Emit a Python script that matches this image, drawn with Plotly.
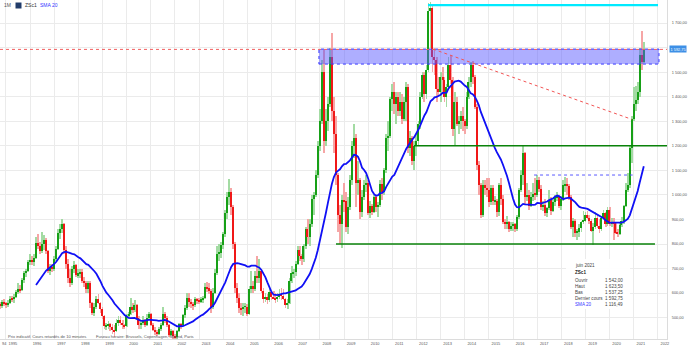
import plotly.graph_objects as go
import pandas as pd

# ---------------- data (monthly, Sep 1994 .. Jun 2021) ----------------
months = pd.date_range("1994-09-01", "2021-06-01", freq="MS")

open_ = [
    560, 552, 548, 562,                                              # 1994 Sep-Dec
    556, 552, 560, 578, 575, 585, 605, 618, 612, 652, 680, 690,      # 1995
    728, 735, 725, 745, 805, 790, 770, 800, 815, 770, 690, 705,      # 1996
    700, 740, 780, 845, 860, 880, 775, 720, 660, 640, 700, 715,      # 1997
    672, 680, 685, 650, 640, 615, 640, 560, 520, 545, 575, 560,      # 1998
    535, 505, 465, 470, 475, 460, 450, 445, 480, 490, 480, 470,      # 1999
    465, 510, 515, 545, 530, 550, 500, 470, 480, 490, 470, 500,      # 2000
    515, 470, 450, 440, 435, 455, 470, 515, 500, 470, 430, 445,      # 2001
    425, 420, 445, 475, 470, 510, 540, 580, 565, 555, 550, 575,      # 2002
    570, 565, 575, 580, 625, 620, 610, 545, 600, 680, 760, 765,      # 2003
    795, 840, 925, 990, 1010, 950, 800, 620, 580, 540, 535, 545,     # 2004
    545, 515, 615, 630, 615, 670, 660, 690, 610, 575, 585, 570,      # 2005
    605, 585, 580, 575, 585, 595, 590, 575, 550, 560, 650, 680,      # 2006
    685, 720, 775, 750, 740, 790, 860, 830, 880, 985, 1000, 1080,    # 2007
    1200, 1300, 1500, 1220, 1300, 1370, 1560, 1340, 1250, 1080, 920, 880,   # 2008
    980, 975, 870, 950, 1060, 1200, 1230, 1050, 1060, 930, 990, 1040,       # 2009
    1050, 925, 955, 930, 990, 950, 960, 1045, 1010, 1100, 1230, 1240,       # 2010
    1390, 1420, 1370, 1400, 1340, 1380, 1310, 1380, 1440, 1190, 1230, 1140, # 2011
    1200, 1220, 1290, 1400, 1490, 1410, 1510, 1750, 1760, 1560, 1550, 1430, # 2012
    1420, 1480, 1470, 1400, 1440, 1530, 1470, 1270, 1380, 1290, 1300, 1320, # 2013
    1300, 1280, 1400, 1460, 1530, 1480, 1360, 1120, 1040, 920, 1040, 1030,  # 2014
    1020, 970, 1030, 975, 975, 930, 1040, 985, 890, 880, 890, 860,          # 2015
    875, 880, 860, 910, 1020, 1080, 1170, 990, 1000, 955, 990, 1005,        # 2016
    1000, 1060, 1025, 950, 960, 925, 945, 980, 935, 970, 990, 995,          # 2017
    955, 985, 1040, 1045, 1035, 990, 870, 895, 845, 850, 865, 890,          # 2018
    895, 920, 905, 895, 855, 870, 905, 875, 860, 905, 925, 880,             # 2019
    940, 880, 890, 885, 845, 842, 878, 895, 955, 1020, 1040, 1190,          # 2020
    1310, 1370, 1385, 1420, 1570, 1542.00,                                  # 2021
]
high = [
    575, 565, 572, 575,
    565, 570, 590, 590, 595, 612, 640, 635, 660, 690, 700, 735,
    760, 750, 760, 830, 840, 810, 850, 835, 825, 775, 720, 720,
    750, 790, 860, 880, 900, 885, 790, 740, 700, 710, 730, 720,
    700, 700, 700, 665, 650, 650, 650, 565, 560, 590, 595, 565,
    545, 510, 480, 485, 480, 475, 470, 495, 505, 505, 490, 475,
    515, 525, 580, 560, 570, 555, 505, 490, 505, 495, 515, 525,
    520, 480, 460, 450, 460, 480, 545, 525, 505, 475, 455, 450,
    435, 450, 480, 480, 515, 550, 600, 600, 575, 565, 585, 580,
    580, 585, 590, 640, 645, 640, 615, 620, 700, 790, 800, 810,
    850, 940, 1010, 1064, 1030, 960, 810, 640, 600, 560, 560, 560,
    555, 630, 690, 650, 690, 750, 740, 700, 620, 600, 595, 615,
    610, 610, 600, 600, 615, 620, 615, 580, 575, 660, 710, 700,
    730, 790, 790, 760, 800, 870, 900, 900, 1000, 1010, 1100, 1220,
    1350, 1550, 1590, 1350, 1400, 1600, 1660, 1400, 1320, 1090, 960, 1000,
    1050, 1010, 990, 1080, 1220, 1290, 1250, 1140, 1070, 1020, 1060, 1080,
    1060, 975, 965, 1000, 1000, 970, 1060, 1070, 1110, 1250, 1300, 1400,
    1450, 1460, 1420, 1420, 1420, 1410, 1400, 1460, 1450, 1260, 1240, 1220,
    1250, 1300, 1420, 1500, 1500, 1530, 1780, 1785, 1775, 1600, 1560, 1480,
    1500, 1520, 1480, 1450, 1560, 1570, 1480, 1420, 1400, 1320, 1340, 1360,
    1310, 1420, 1480, 1540, 1545, 1490, 1370, 1140, 1050, 1060, 1060, 1070,
    1070, 1040, 1040, 995, 985, 1050, 1070, 1000, 900, 915, 895, 890,
    890, 885, 920, 1030, 1100, 1200, 1175, 1050, 1020, 1010, 1050, 1070,
    1080, 1075, 1040, 975, 985, 950, 1020, 990, 985, 1000, 1010, 1000,
    995, 1060, 1075, 1070, 1045, 1000, 905, 900, 860, 880, 895, 935,
    930, 935, 920, 900, 885, 930, 920, 900, 915, 940, 930, 950,
    950, 905, 905, 890, 860, 885, 910, 960, 1050, 1090, 1200, 1320,
    1440, 1445, 1460, 1600, 1668, 1623.50,
]
low = [
    540, 535, 540, 548,
    540, 545, 555, 565, 560, 580, 595, 600, 608, 640, 665, 685,
    715, 715, 710, 740, 780, 760, 765, 775, 760, 680, 675, 685,
    690, 730, 775, 820, 845, 760, 700, 640, 625, 635, 680, 665,
    660, 660, 640, 625, 600, 600, 540, 510, 505, 535, 555, 520,
    495, 455, 450, 455, 445, 435, 420, 440, 465, 470, 455, 455,
    460, 500, 510, 520, 525, 495, 455, 455, 470, 460, 465, 490,
    465, 445, 430, 425, 430, 445, 465, 480, 460, 420, 425, 415,
    415, 415, 440, 455, 465, 500, 530, 545, 540, 530, 545, 555,
    555, 560, 560, 575, 605, 595, 520, 535, 595, 675, 730, 745,
    780, 830, 900, 960, 920, 780, 600, 560, 520, 510, 505, 520,
    505, 510, 600, 600, 610, 640, 640, 600, 560, 565, 555, 565,
    570, 575, 560, 565, 575, 570, 570, 540, 535, 555, 640, 660,
    670, 715, 730, 715, 725, 780, 800, 790, 870, 920, 990, 1070,
    1180, 1290, 1170, 1200, 1260, 1360, 1300, 1170, 1040, 850, 800, 785,
    930, 850, 840, 940, 1040, 1150, 950, 1000, 900, 910, 980, 1010,
    920, 905, 920, 925, 930, 910, 950, 980, 1000, 1090, 1180, 1230,
    1340, 1330, 1290, 1320, 1320, 1290, 1300, 1300, 1170, 1160, 1120, 1100,
    1160, 1200, 1270, 1390, 1380, 1390, 1500, 1600, 1500, 1490, 1380, 1400,
    1380, 1410, 1380, 1360, 1430, 1450, 1240, 1200, 1280, 1250, 1270, 1260,
    1250, 1270, 1390, 1440, 1450, 1350, 1100, 1000, 905, 910, 1000, 990,
    950, 960, 960, 960, 910, 915, 960, 880, 860, 860, 850, 855,
    855, 850, 855, 900, 1010, 1040, 960, 975, 940, 950, 975, 980,
    990, 1010, 940, 935, 915, 910, 940, 920, 930, 955, 975, 945,
    940, 975, 1010, 1000, 980, 860, 830, 830, 815, 830, 850, 880,
    890, 900, 880, 850, 795, 860, 865, 845, 855, 900, 870, 875,
    875, 870, 815, 840, 830, 835, 870, 880, 950, 1010, 1030, 1130,
    1300, 1340, 1370, 1400, 1510, 1537.25,
]
close = [
    552, 548, 562, 556,
    552, 560, 578, 575, 585, 605, 618, 612, 652, 680, 690, 728,
    735, 725, 745, 805, 790, 770, 800, 815, 770, 690, 705, 700,
    740, 780, 845, 860, 880, 775, 720, 660, 640, 700, 715, 672,
    680, 685, 650, 640, 615, 640, 560, 520, 545, 575, 560, 535,
    505, 465, 470, 475, 460, 450, 445, 480, 490, 480, 470, 465,
    510, 515, 545, 530, 550, 500, 470, 480, 490, 470, 500, 515,
    470, 450, 440, 435, 455, 470, 515, 500, 470, 430, 445, 425,
    420, 445, 475, 470, 510, 540, 580, 565, 555, 550, 575, 570,
    565, 575, 580, 625, 620, 610, 545, 600, 680, 760, 765, 795,
    840, 925, 990, 1010, 950, 800, 620, 580, 540, 535, 545, 545,
    515, 615, 630, 615, 670, 660, 690, 610, 575, 585, 570, 605,
    585, 580, 575, 585, 595, 590, 575, 550, 560, 650, 680, 685,
    720, 775, 750, 740, 790, 860, 830, 880, 985, 1000, 1080, 1200,
    1300, 1500, 1220, 1300, 1370, 1560, 1340, 1250, 1080, 920, 880, 980,
    975, 870, 950, 1060, 1200, 1230, 1050, 1060, 930, 990, 1040, 1050,
    925, 955, 930, 990, 950, 960, 1045, 1010, 1100, 1230, 1240, 1390,
    1420, 1370, 1400, 1340, 1380, 1310, 1380, 1440, 1190, 1230, 1140, 1200,
    1220, 1290, 1400, 1490, 1410, 1510, 1750, 1760, 1560, 1550, 1430, 1420,
    1480, 1470, 1400, 1440, 1530, 1470, 1270, 1380, 1290, 1300, 1320, 1300,
    1280, 1400, 1460, 1530, 1480, 1360, 1120, 1040, 920, 1040, 1030, 1020,
    970, 1030, 975, 975, 930, 1040, 985, 890, 880, 890, 860, 875,
    880, 860, 910, 1020, 1080, 1170, 990, 1000, 955, 990, 1005, 1000,
    1060, 1025, 950, 960, 925, 945, 980, 935, 970, 990, 995, 955,
    985, 1040, 1045, 1035, 990, 870, 895, 845, 850, 865, 890, 895,
    920, 905, 895, 855, 870, 905, 875, 860, 905, 925, 880, 940,
    880, 890, 885, 845, 842, 878, 895, 955, 1020, 1040, 1190, 1310,
    1370, 1385, 1420, 1570, 1542, 1592.75,
]

y_tick_values = [500, 600, 700, 800, 900, 1000, 1100, 1200, 1300, 1400, 1500, 1600, 1700]
y_tick_labels = ["500,00", "600,00", "700,00", "800,00", "900,00", "1 000,00", "1 100,00",
                 "1 200,00", "1 300,00", "1 400,00", "1 500,00", "", "1 700,00"]
years = list(range(1995, 2023))

# drawn levels / zones
zone_low, zone_high = 1533, 1594
zone_start, zone_end = "2007-12-19", "2022-01-17"
peak_level, peak_start, peak_end = 1773, "2012-06-24", "2022-01-02"
support_1200, s1200_start = 1200, "2011-11-25"
support_800, s800_start, s800_end = 800, "2008-09-02", "2021-11-17"
mid_level, mid_start, mid_end = 1081, "2016-11-14", "2020-12-15"
trend_start, trend_end = ("2012-09-08", 1594), ("2020-11-30", 1308)
last_price = 1592.75

x_range = ["1994-10-04", "2022-05-18"]
y_range = [413, 1794]

# ---------------- figure ----------------
df = pd.DataFrame({"d": months, "o": open_, "h": high, "l": low, "c": close})
df["up"] = df["c"] >= df["o"]
df["sma"] = df["c"].rolling(20).mean()
df["body_base"] = df[["o", "c"]].min(axis=1)
df["body_h"] = (df["c"] - df["o"]).abs().clip(lower=2)

UP_BODY, UP_WICK = "#17a017", "#a3dba3"
DN_BODY, DN_WICK = "#f01818", "#f6a6a6"
DAY = 86400000

fig = go.Figure()
fig.add_trace(go.Bar(
    x=df["d"], y=df["h"] - df["l"], base=df["l"], width=13 * DAY,
    marker=dict(color=[UP_WICK if u else DN_WICK for u in df["up"]], line=dict(width=0)),
    hoverinfo="skip", showlegend=False))
fig.add_trace(go.Bar(
    x=df["d"], y=df["body_h"], base=df["body_base"], width=20 * DAY,
    marker=dict(color=[UP_BODY if u else DN_BODY for u in df["up"]], line=dict(width=0)),
    hoverinfo="skip", showlegend=False))
fig.add_trace(go.Scatter(
    x=df["d"], y=df["sma"], mode="lines",
    line=dict(color="#1010f5", width=1.8), showlegend=False))

shapes = [
    dict(type="rect", xref="x", yref="y", x0=zone_start, x1=zone_end, y0=zone_low, y1=zone_high,
         fillcolor="rgba(85,85,255,0.48)", line=dict(color="#3a3aff", width=1, dash="dot"), layer="above"),
    dict(type="line", xref="paper", yref="y", x0=0, x1=1, y0=last_price, y1=last_price,
         line=dict(color="#f26060", width=1, dash="dot"), layer="above"),
    dict(type="line", xref="x", yref="y", x0=peak_start, x1=peak_end, y0=peak_level, y1=peak_level,
         line=dict(color="#00eaff", width=2.2), layer="above"),
    dict(type="line", xref="x", yref="y", x0=s1200_start, x1=x_range[1], y0=support_1200, y1=support_1200,
         line=dict(color="#0a820a", width=1.6), layer="above"),
    dict(type="line", xref="x", yref="y", x0=s800_start, x1=s800_end, y0=support_800, y1=support_800,
         line=dict(color="#0a820a", width=1.6), layer="above"),
    dict(type="line", xref="x", yref="y", x0=mid_start, x1=mid_end, y0=mid_level, y1=mid_level,
         line=dict(color="#5a5aff", width=1, dash="dot"), layer="above"),
    dict(type="line", xref="x", yref="y", x0=trend_start[0], x1=trend_end[0],
         y0=trend_start[1], y1=trend_end[1],
         line=dict(color="#f25555", width=1, dash="dot"), layer="above"),
]

W, H_ = 667.0, 339.0
def px(x): return x / W
def py(y): return 1 - y / H_

FONT = "Liberation Sans, Arial, sans-serif"
# info box background
shapes.append(dict(type="rect", xref="paper", yref="paper", x0=px(566), x1=px(630), y0=py(309), y1=py(259),
                   fillcolor="rgba(255,255,255,0.92)", line=dict(width=0), layer="above"))
# header icon
shapes.append(dict(type="rect", xref="paper", yref="paper", x0=px(15.5), x1=px(21.5), y0=py(8.5), y1=py(2.5),
                   fillcolor="#223c6a", line=dict(width=0), layer="above"))

ann = []
def A(text, x, y, size=4.6, color="#444", anchor="left", bold=False, **kw):
    ann.append(dict(text=("<b>%s</b>" % text) if bold else text, xref="paper", yref="paper",
                    x=px(x), y=py(y), xanchor=anchor, yanchor="middle", showarrow=False,
                    font=dict(size=size, color=color, family=FONT), **kw))

A("1M", 2, 5.5, size=5, color="#555")
A("ZSc1", 23, 5.5, size=5, color="#333")
A("SMA 20", 38, 5.5, size=5, color="#3535ff")
A("Prix indicatif. Cours retardés de 10 minutes", 6, 336.5, size=4.1, color="#555")
A("Fuseau horaire: Brussels, Copenhagen, Madrid, Paris", 94, 336.5, size=4.1, color="#555")
A("94", 0.3, 343.5, size=3.9, color="#555", anchor="left")

A("juin 2021", 573, 265, color="#444")
A("ZSc1", 573, 272.5, color="#222", bold=True)
rows = [("Ouvrir", "1 542,00", "#444"), ("Haut", "1 623,50", "#444"), ("Bas", "1 537,25", "#444"),
        ("Dernier cours", "1 592,75", "#444"), ("SMA 20", "1 116,49", "#3535ff")]
for i, (lab, val, col) in enumerate(rows):
    yy = 280 + i * 6.1
    A(lab, 573, yy, color=col)
    A(val, 625, yy, color="#444", anchor="right")

# last price label on the right axis
ann.append(dict(text="1 592,75", xref="paper", yref="y", x=1, y=last_price, xanchor="left", yanchor="middle",
                xshift=2, showarrow=False, bgcolor="#3d8fe6", borderpad=0.5,
                font=dict(size=3.9, color="white", family=FONT)))

fig.update_layout(
    width=690, height=351, margin=dict(l=0, r=23, t=0, b=12),
    paper_bgcolor="white", plot_bgcolor="white",
    barmode="overlay", bargap=0, showlegend=False,
    shapes=shapes, annotations=ann,
    font=dict(family=FONT, size=4, color="#555"),
    xaxis=dict(type="date", range=x_range, tickvals=[f"{y}-01-01" for y in years],
               ticktext=[str(y) for y in years], showgrid=True, gridcolor="#ebebeb", gridwidth=1,
               ticks="", showline=True, linecolor="#dcdcdc", linewidth=1,
               tickfont=dict(size=3.9, color="#555", family=FONT), ticklabelshift=7,
               zeroline=False, fixedrange=True),
    yaxis=dict(side="right", range=y_range, tickvals=y_tick_values, ticktext=y_tick_labels,
               showgrid=True, gridcolor="#ebebeb", gridwidth=1, ticks="",
               showline=True, linecolor="#dcdcdc", linewidth=1,
               tickfont=dict(size=3.9, color="#555", family=FONT), ticklabelstandoff=3,
               zeroline=False, fixedrange=True),
)

fig.write_html("out.html")
